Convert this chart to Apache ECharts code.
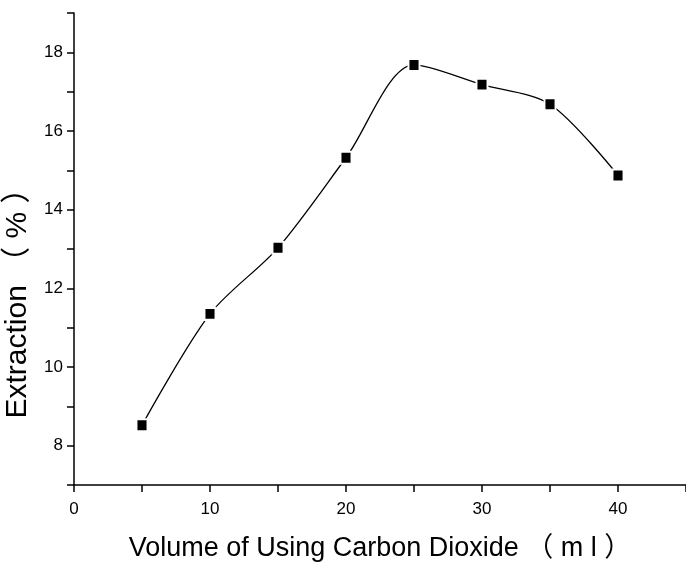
<!DOCTYPE html>
<html>
<head>
<meta charset="utf-8">
<script src="https://cdn.jsdelivr.net/npm/echarts@6/dist/echarts.min.js"></script>
<style>
  html, body { margin: 0; padding: 0; background: #fff; }
  #chart { width: 686px; height: 567px; }
</style>
</head>
<body>
<div id="chart"></div>
<script>
// volume of CO2 used (ml) vs extraction (%)
const volumes = [5, 10, 15, 20, 25, 30, 35, 40];
const extraction = [8.52, 11.35, 13.03, 15.32, 17.68, 17.18, 16.68, 14.87];

const font = '"Liberation Sans", Arial, "Noto Sans CJK SC", sans-serif';

const chart = echarts.init(document.getElementById('chart'));

chart.setOption({
  animation: false,
  grid: { left: 74, right: 0, top: 13, bottom: 82, outerBoundsMode: 'none' },
  xAxis: {
    type: 'value',
    min: 0,
    max: 45,
    interval: 5,
    name: 'Volume of Using Carbon Dioxide （ m l ）',
    nameLocation: 'middle',
    nameGap: 50,
    nameTextStyle: { color: '#000', fontSize: 27, fontFamily: font },
    axisLine: { onZero: false, lineStyle: { color: '#000', width: 1.5 } },
    axisTick: { inside: false, length: 7, lineStyle: { color: '#000', width: 1.5 } },
    axisLabel: {
      color: '#000',
      fontSize: 17,
      fontFamily: font,
      margin: 16,
      formatter: v => (v % 10 === 0 ? String(v) : '')
    },
    splitLine: { show: false }
  },
  yAxis: {
    type: 'value',
    min: 7,
    max: 19,
    interval: 1,
    name: 'Extraction （ % ）',
    nameLocation: 'middle',
    nameGap: 40,
    nameTextStyle: { color: '#000', fontSize: 30, fontFamily: font, padding: [0, 94, 0, 0] },
    axisLine: { lineStyle: { color: '#000', width: 1.5 } },
    axisTick: { inside: false, length: 7, lineStyle: { color: '#000', width: 1.5 } },
    axisLabel: {
      color: '#000',
      fontSize: 17,
      fontFamily: font,
      margin: 11,
      formatter: v => (v % 2 === 0 ? String(v) : '')
    },
    splitLine: { show: false }
  },
  series: [
    {
      type: 'line',
      data: volumes.map((v, i) => [v, extraction[i]]),
      smooth: 0.3,
      symbol: 'rect',
      symbolSize: [11, 12],
      lineStyle: { color: '#000', width: 1.3 },
      itemStyle: { color: '#000', borderColor: '#fff', borderWidth: 2 }
    }
  ]
});
</script>
</body>
</html>
